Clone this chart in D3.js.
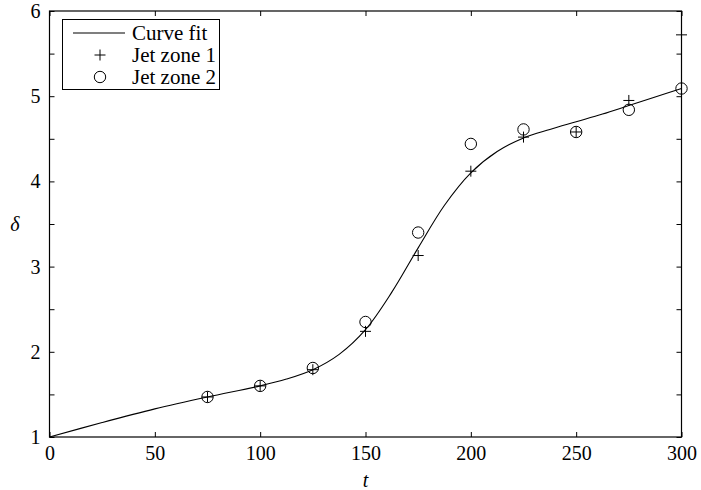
<!DOCTYPE html>
<html>
<head>
<meta charset="utf-8">
<script src="https://cdn.jsdelivr.net/npm/d3@7"></script>
<style>
  html, body { margin: 0; padding: 0; background: #fff; }
  svg { display: block; }
  svg text { font-family: "Liberation Serif", "Times New Roman", Times, "DejaVu Serif", serif; fill: #000; }
</style>
</head>
<body>
<svg id="chart" width="701" height="490"></svg>
<script>
// Measurement times and boundary-layer thickness for the two jet zones
const times = [75, 100, 125, 150, 175, 200, 225, 250, 275, 300];
const jetZone1 = [1.47, 1.60, 1.79, 2.24, 3.13, 4.12, 4.52, 4.58, 4.95, 5.72];
const jetZone2 = [1.47, 1.60, 1.81, 2.35, 3.40, 4.44, 4.61, 4.58, 4.84, 5.09];

// Fitted curve, sampled along t
const fitT = [0, 25, 50, 75, 100, 112.5, 125, 137.5, 150, 162.5, 175, 187.5, 200, 212.5, 225, 237.5, 250, 262.5, 275, 287.5, 300];
const fitD = [1.00, 1.17, 1.33, 1.47, 1.60, 1.68, 1.79, 1.97, 2.26, 2.70, 3.22, 3.72, 4.10, 4.35, 4.51, 4.61, 4.70, 4.79, 4.89, 4.99, 5.09];

// Axis ticks
const xTicks = [0, 50, 100, 150, 200, 250, 300];
const yTicks = [1, 2, 3, 4, 5, 6];
const yMinorTicks = [1.5, 2.5, 3.5, 4.5, 5.5];

const legendItems = ["Curve fit", "Jet zone 1", "Jet zone 2"];

const serif = '"Liberation Serif", "Times New Roman", Times, "DejaVu Serif", serif';
const svg = d3.select("#chart");
const plotLeft = 49.5, plotRight = 681.5, plotTop = 11, plotBottom = 437;

const x = d3.scaleLinear().domain([0, 300]).range([plotLeft, plotRight]);
const y = d3.scaleLinear().domain([1, 6]).range([plotBottom, plotTop]);

const tickLen = 5;

// Bottom axis with labels
const gx = svg.append("g").attr("transform", `translate(0,${plotBottom})`)
  .call(d3.axisBottom(x).tickValues(xTicks).tickSize(-tickLen).tickPadding(9).tickFormat(d3.format("d")));
// Top axis, ticks only
const gxt = svg.append("g").attr("transform", `translate(0,${plotTop})`)
  .call(d3.axisTop(x).tickValues(xTicks).tickSize(-tickLen).tickFormat(""));

const allY = yTicks.concat(yMinorTicks);
// Left axis: ticks every half unit, labels on integers
const gy = svg.append("g").attr("transform", `translate(${plotLeft},0)`)
  .call(d3.axisLeft(y).tickValues(allY).tickSize(-tickLen).tickPadding(9)
    .tickFormat(d => yTicks.includes(d) ? d3.format("d")(d) : ""));
// Right axis, ticks only
const gyr = svg.append("g").attr("transform", `translate(${plotRight},0)`)
  .call(d3.axisRight(y).tickValues(allY).tickSize(-tickLen).tickFormat(""));

[gx, gxt, gy, gyr].forEach(g => {
  g.attr("font-family", serif).attr("font-size", 20);
  g.select(".domain").remove();
  g.selectAll("line").attr("stroke", "#000").attr("stroke-width", 1);
  g.selectAll("text").style("font-family", serif).style("font-size", "20px");
});

// Plot frame
svg.append("rect")
  .attr("x", plotLeft).attr("y", plotTop)
  .attr("width", plotRight - plotLeft).attr("height", plotBottom - plotTop)
  .attr("fill", "none").attr("stroke", "#000").attr("stroke-width", 1.2);

// Axis titles
svg.append("text").attr("x", x(150)).attr("y", 487)
  .attr("text-anchor", "middle").style("font-family", serif).style("font-size", "20px")
  .attr("font-style", "italic").text("t");
svg.append("text").attr("x", 15).attr("y", y(3.5) + 7)
  .attr("text-anchor", "middle").style("font-family", serif).style("font-size", "20px")
  .attr("font-style", "italic").text("δ");

// Fitted curve
const line = d3.line().x((d, i) => x(fitT[i])).y(d => y(d)).curve(d3.curveCatmullRom.alpha(0.5));
svg.append("path").datum(fitD)
  .attr("d", line).attr("fill", "none").attr("stroke", "#000").attr("stroke-width", 1.1);

const plusPath = "M-5.5,0H5.5M0,-5.5V5.5";

// Jet zone 1 markers
svg.append("g").selectAll("path").data(jetZone1).join("path")
  .attr("transform", (d, i) => `translate(${x(times[i])},${y(d)})`)
  .attr("d", plusPath).attr("stroke", "#000").attr("stroke-width", 1).attr("fill", "none");

// Jet zone 2 markers
svg.append("g").selectAll("circle").data(jetZone2).join("circle")
  .attr("cx", (d, i) => x(times[i])).attr("cy", d => y(d)).attr("r", 5.7)
  .attr("stroke", "#000").attr("stroke-width", 1).attr("fill", "none");

// Legend
const lg = svg.append("g");
lg.append("rect").attr("x", 62.5).attr("y", 19.5).attr("width", 157).attr("height", 70)
  .attr("fill", "#fff").attr("stroke", "#000").attr("stroke-width", 1);
const rowY = [33, 55, 77];
lg.append("line").attr("x1", 73).attr("x2", 125).attr("y1", rowY[0]).attr("y2", rowY[0])
  .attr("stroke", "#000").attr("stroke-width", 1.1);
lg.append("path").attr("transform", `translate(100,${rowY[1]})`).attr("d", plusPath)
  .attr("stroke", "#000").attr("fill", "none");
lg.append("circle").attr("cx", 100).attr("cy", rowY[2]).attr("r", 5.7)
  .attr("stroke", "#000").attr("fill", "none");
lg.selectAll("text.item").data(legendItems).join("text")
  .attr("class", "item")
  .attr("x", 132).attr("y", (d, i) => rowY[i] + 7)
  .style("font-family", serif).style("font-size", "21px").text(d => d);
</script>
</body>
</html>
